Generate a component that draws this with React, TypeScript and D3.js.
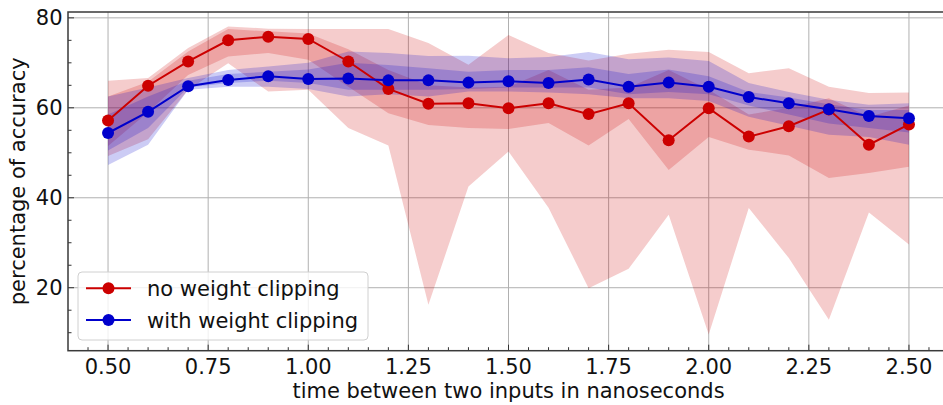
import React from "react";
import * as d3 from "d3";

const xs = [0.5, 0.6, 0.7, 0.8, 0.9, 1.0, 1.1, 1.2, 1.3, 1.4, 1.5, 1.6, 1.7, 1.8, 1.9, 2.0, 2.1, 2.2, 2.3, 2.4, 2.5];

const redMean = [57.2, 64.9, 70.3, 75.0, 75.8, 75.3, 70.3, 64.2, 60.9, 61.0, 59.9, 61.0, 58.6, 61.0, 52.8, 59.9, 53.6, 55.9, 59.6, 51.8, 56.3];
const redOuterHi = [66.0, 66.6, 73.3, 78.1, 77.6, 77.5, 77.5, 77.5, 74.4, 69.6, 76.2, 72.2, 70.5, 72.0, 72.9, 72.4, 67.7, 68.8, 64.7, 63.3, 63.4];
const redOuterLo = [49.3, 53.0, 64.0, 69.9, 63.6, 64.0, 55.5, 51.6, 16.2, 42.5, 50.3, 37.8, 19.9, 24.2, 36.2, 9.6, 37.7, 26.6, 12.9, 36.7, 29.6];
const redInnerHi = [62.5, 65.8, 72.5, 77.5, 77.0, 76.5, 73.0, 68.4, 65.0, 64.5, 64.7, 68.4, 64.0, 64.5, 68.4, 64.0, 58.5, 60.0, 62.1, 58.0, 60.5];
const redInnerLo = [51.5, 59.0, 67.3, 71.4, 72.2, 70.7, 64.7, 58.8, 56.2, 55.5, 55.3, 56.6, 51.6, 57.5, 46.2, 53.5, 50.7, 49.4, 44.4, 45.5, 46.9];

const blueMean = [54.4, 59.1, 64.8, 66.2, 67.0, 66.4, 66.5, 66.1, 66.1, 65.6, 65.9, 65.5, 66.3, 64.7, 65.6, 64.7, 62.4, 61.0, 59.7, 58.2, 57.7];
const blueOuterHi = [62.5, 64.5, 66.6, 68.4, 69.2, 70.0, 72.5, 72.2, 71.5, 71.6, 71.0, 71.3, 72.4, 70.8, 71.2, 70.4, 65.5, 63.5, 61.8, 60.7, 61.0];
const blueOuterLo = [47.3, 51.8, 64.0, 64.7, 64.7, 64.2, 62.5, 63.0, 62.5, 63.6, 63.6, 63.4, 63.0, 62.1, 62.1, 61.5, 58.0, 56.0, 54.0, 53.5, 51.8];
const blueInnerHi = [58.5, 62.5, 66.0, 67.5, 68.0, 68.5, 70.0, 69.5, 68.8, 68.0, 68.4, 68.4, 69.0, 67.5, 68.5, 67.0, 63.5, 62.3, 60.8, 59.5, 59.5];
const blueInnerLo = [50.5, 55.5, 64.5, 65.5, 66.0, 65.5, 64.0, 64.0, 64.0, 64.2, 64.5, 64.5, 64.5, 63.0, 63.5, 63.0, 60.5, 58.5, 56.5, 55.5, 54.5];

const xTicks = [0.5, 0.75, 1.0, 1.25, 1.5, 1.75, 2.0, 2.25, 2.5];
const yTicks = [20, 40, 60, 80];
const seriesNames = ["no weight clipping", "with weight clipping"];

const RED = "#cc0000";
const BLUE = "#0000cc";
const FONT = "DejaVu Sans, sans-serif";

export default function App() {
  const W = 943, H = 405;
  const L = 68, R = 949, T = 12, B = 350.7;
  const x = d3.scaleLinear().domain([0.4, 2.6]).range([L, R]);
  const y = d3.scaleLinear().domain([6.0, 81.3]).range([B, T]);

  const area = (lo: number[], hi: number[]) =>
    d3.area<number>().x((_, i) => x(xs[i])).y0((_, i) => y(lo[i])).y1((_, i) => y(hi[i]))(xs) as string;
  const line = (v: number[]) => d3.line<number>().x((_, i) => x(xs[i])).y((_, i) => y(v[i]))(xs) as string;

  const xMinor = d3.range(0.45, 2.6, 0.05).filter((v) => Math.abs(v / 0.25 - Math.round(v / 0.25)) > 0.01);
  const yMinor = d3.range(10, 81, 5).filter((v) => v % 20 !== 0);

  const fmt = d3.format(".2f");
  const FS = 21;

  return (
    <svg width={W} height={H} style={{ position: "absolute", left: 0, top: 0, background: "#fff" }} fontFamily={FONT}>
      <defs>
        <clipPath id="plot">
          <rect x={L} y={T} width={R - L} height={B - T} />
        </clipPath>
      </defs>
      <g stroke="#b0b0b0" strokeWidth={1}>
        {xTicks.map((t) => (
          <line key={"gx" + t} x1={x(t)} x2={x(t)} y1={T} y2={B} />
        ))}
        {yTicks.map((t) => (
          <line key={"gy" + t} x1={L} x2={R} y1={y(t)} y2={y(t)} />
        ))}
      </g>
      <g clipPath="url(#plot)">
        <path d={area(redOuterLo, redOuterHi)} fill={RED} fillOpacity={0.2} />
        <path d={area(redInnerLo, redInnerHi)} fill={RED} fillOpacity={0.2} />
        <path d={area(blueOuterLo, blueOuterHi)} fill={BLUE} fillOpacity={0.2} />
        <path d={area(blueInnerLo, blueInnerHi)} fill={BLUE} fillOpacity={0.2} />
        <path d={line(redMean)} fill="none" stroke={RED} strokeWidth={2} />
        {xs.map((v, i) => (
          <circle key={"rc" + i} cx={x(v)} cy={y(redMean[i])} r={6} fill={RED} />
        ))}
        <path d={line(blueMean)} fill="none" stroke={BLUE} strokeWidth={2} />
        {xs.map((v, i) => (
          <circle key={"bc" + i} cx={x(v)} cy={y(blueMean[i])} r={6} fill={BLUE} />
        ))}
      </g>
      <g stroke="#333" strokeWidth={1}>
        {xTicks.map((t) => (
          <line key={"xt" + t} x1={x(t)} x2={x(t)} y1={B} y2={B - 6} />
        ))}
        {xMinor.map((t) => (
          <line key={"xm" + t} x1={x(t)} x2={x(t)} y1={B} y2={B - 3.5} />
        ))}
        {yTicks.map((t) => (
          <line key={"yt" + t} x1={L} x2={L + 6} y1={y(t)} y2={y(t)} />
        ))}
        {yMinor.map((t) => (
          <line key={"ym" + t} x1={L} x2={L + 3.5} y1={y(t)} y2={y(t)} />
        ))}
      </g>
      <rect x={L} y={T} width={R - L} height={B - T} fill="none" stroke="#3a3a3a" strokeWidth={1.5} />
      <g fontSize={FS} fill="#111">
        {xTicks.map((t) => (
          <text key={"xl" + t} x={x(t)} y={374} textAnchor="middle">
            {fmt(t)}
          </text>
        ))}
        {yTicks.map((t) => (
          <text key={"yl" + t} x={62.5} y={y(t) + 7.5} textAnchor="end">
            {t}
          </text>
        ))}
      </g>
      <text x={(L + R) / 2} y={398} textAnchor="middle" fontSize={FS} fill="#111">
        time between two inputs in nanoseconds
      </text>
      <text transform={`translate(24.5, ${(T + B) / 2}) rotate(-90)`} textAnchor="middle" fontSize={FS} fill="#111">
        percentage of accuracy
      </text>
      <g>
        <rect x={78} y={272} width={290} height={68} rx={4} fill="#fff" fillOpacity={0.8} stroke="#d0d0d0" strokeWidth={1} />
        {[RED, BLUE].map((c, i) => (
          <g key={"lg" + i}>
            <line x1={86} x2={131} y1={288.3 + i * 31.7} y2={288.3 + i * 31.7} stroke={c} strokeWidth={2} />
            <circle cx={108.5} cy={288.3 + i * 31.7} r={6} fill={c} />
            <text x={147} y={288.3 + i * 31.7 + 7.5} fontSize={FS} fill="#111">
              {seriesNames[i]}
            </text>
          </g>
        ))}
      </g>
    </svg>
  );
}
